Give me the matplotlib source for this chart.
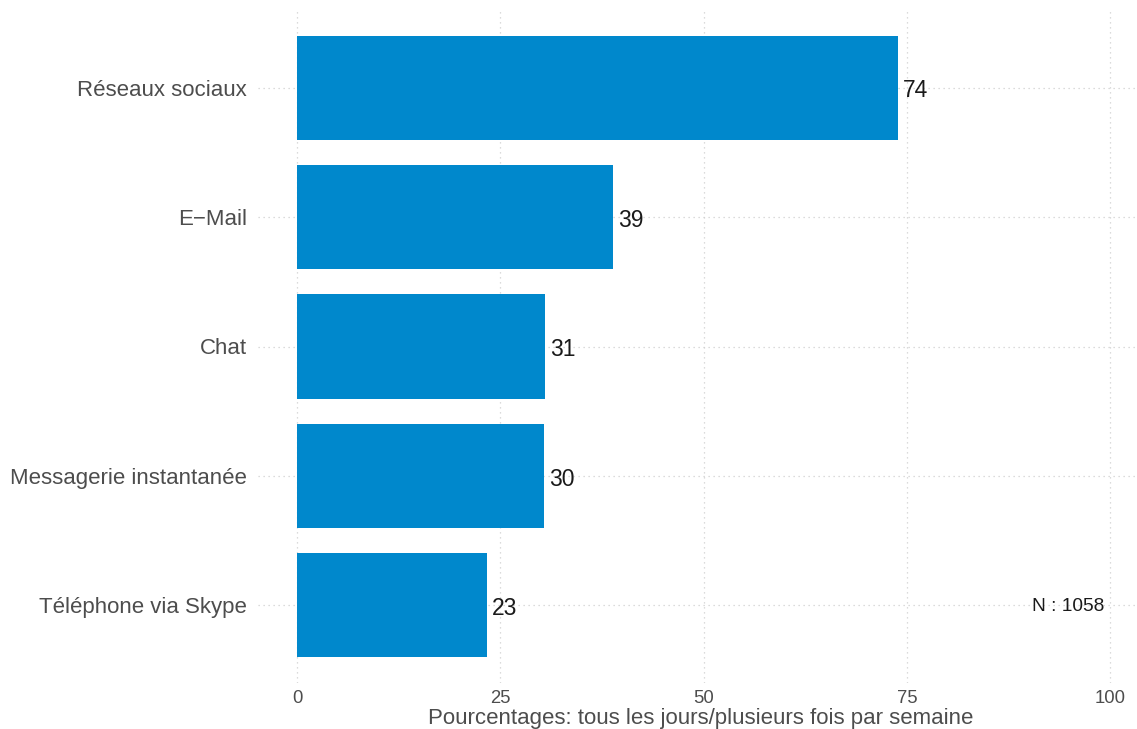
import matplotlib
matplotlib.use("Agg")
import matplotlib.pyplot as plt

categories = ["Réseaux sociaux", "E\u2212Mail", "Chat", "Messagerie instantanée", "Téléphone via Skype"]
values = [73.9, 38.9, 30.5, 30.4, 23.4]
value_labels = ["74", "39", "31", "30", "23"]
x_ticks = [0, 25, 50, 75, 100]
x_label = "Pourcentages: tous les jours/plusieurs fois par semaine"
n_text = "N : 1058"

plt.rcParams['font.family'] = ['Liberation Sans', 'DejaVu Sans']

fig = plt.figure(figsize=(11.37, 7.29), dpi=100)
ax = fig.add_axes([258/1137, 46/729, 879/1137, 673/729])

ypos = list(range(len(categories)))
ax.barh(ypos, values, height=0.805, color="#0088CC", zorder=2)
for y, v, lab in zip(ypos, values, value_labels):
    ax.text(v + 0.6, y + 0.025, lab, va="center", ha="left", fontsize=16.5, color="#1a1a1a", zorder=3)

ax.set_ylim(len(categories) - 0.4, -0.6)
ax.set_xlim(-4.8, 103.3)
ax.set_yticks(ypos)
ax.set_yticklabels(categories, fontsize=16.0, color="#4d4d4d")
ax.set_xticks(x_ticks)
ax.set_xticklabels([str(t) for t in x_ticks], fontsize=13.3, color="#4d4d4d")
ax.tick_params(axis="both", length=0)
ax.tick_params(axis="y", pad=8)
ax.tick_params(axis="x", pad=5)
ax.set_xlabel(x_label, fontsize=16, color="#4d4d4d")
ax.xaxis.set_label_coords((701 - 258) / 879, -0.0365)

ax.grid(True, axis="both", linestyle=(0, (1, 3)), color="#d0d0d0", linewidth=0.9, zorder=0)
ax.set_axisbelow(True)
for s in ax.spines.values():
    s.set_visible(False)

ax.text(94.8, 4.01, n_text, ha="center", va="center", fontsize=13.8, color="#1a1a1a")

fig.savefig("out.png", dpi=100)
